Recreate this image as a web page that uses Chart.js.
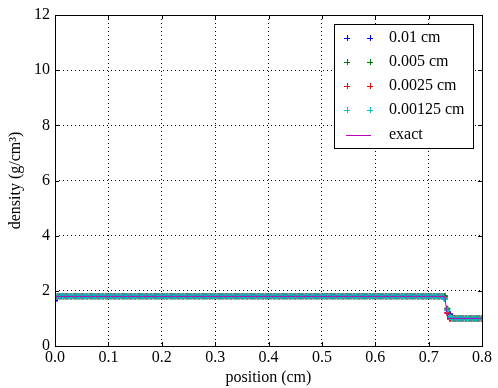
<!DOCTYPE html>
<html>
<head>
<meta charset="utf-8">
<script src="https://cdn.jsdelivr.net/npm/chart.js@4"></script>
<style>
  html, body { margin: 0; padding: 0; background: #fff; }
  #chart { display: block; }
</style>
</head>
<body>
<canvas id="chart" width="498" height="388"></canvas>
<script>
// cell centres (cm) for the 0.01 cm run
const pos01 = [
    0,0.01,0.02,0.03,0.04,0.05,0.06,0.07,0.08,0.09,
    0.1,0.11,0.12,0.13,0.14,0.15,0.16,0.17,0.18,0.19,
    0.2,0.21,0.22,0.23,0.24,0.25,0.26,0.27,0.28,0.29,
    0.3,0.31,0.32,0.33,0.34,0.35,0.36,0.37,0.38,0.39,
    0.4,0.41,0.42,0.43,0.44,0.45,0.46,0.47,0.48,0.49,
    0.5,0.51,0.52,0.53,0.54,0.55,0.56,0.57,0.58,0.59,
    0.6,0.61,0.62,0.63,0.64,0.65,0.66,0.67,0.68,0.69,
    0.7,0.71,0.72,0.73,0.74,0.75,0.76,0.77,0.78,0.79,
    0.8
];
// positions used for the finer runs
const pos005 = [
    0,0.005,0.01,0.015,0.02,0.025,0.03,0.035,0.04,0.045,0.05,0.055,0.06,0.065,0.07,0.075,0.08,0.085,0.09,0.095,
    0.1,0.105,0.11,0.115,0.12,0.125,0.13,0.135,0.14,0.145,0.15,0.155,0.16,0.165,0.17,0.175,0.18,0.185,0.19,0.195,
    0.2,0.205,0.21,0.215,0.22,0.225,0.23,0.235,0.24,0.245,0.25,0.255,0.26,0.265,0.27,0.275,0.28,0.285,0.29,0.295,
    0.3,0.305,0.31,0.315,0.32,0.325,0.33,0.335,0.34,0.345,0.35,0.355,0.36,0.365,0.37,0.375,0.38,0.385,0.39,0.395,
    0.4,0.405,0.41,0.415,0.42,0.425,0.43,0.435,0.44,0.445,0.45,0.455,0.46,0.465,0.47,0.475,0.48,0.485,0.49,0.495,
    0.5,0.505,0.51,0.515,0.52,0.525,0.53,0.535,0.54,0.545,0.55,0.555,0.56,0.565,0.57,0.575,0.58,0.585,0.59,0.595,
    0.6,0.605,0.61,0.615,0.62,0.625,0.63,0.635,0.64,0.645,0.65,0.655,0.66,0.665,0.67,0.675,0.68,0.685,0.69,0.695,
    0.7,0.705,0.71,0.715,0.72,0.725,0.73,0.735,0.74,0.745,0.75,0.755,0.76,0.765,0.77,0.775,0.78,0.785,0.79,0.795,
    0.8
];

const rho01 = [
    1.65,1.8,1.8,1.8,1.8,1.8,1.8,1.8,1.8,1.8,
    1.8,1.8,1.8,1.8,1.8,1.8,1.8,1.8,1.8,1.8,
    1.8,1.8,1.8,1.8,1.8,1.8,1.8,1.8,1.8,1.8,
    1.8,1.8,1.8,1.8,1.8,1.8,1.8,1.8,1.8,1.8,
    1.8,1.8,1.8,1.8,1.8,1.8,1.8,1.8,1.8,1.8,
    1.8,1.8,1.8,1.8,1.8,1.8,1.8,1.8,1.8,1.8,
    1.8,1.8,1.8,1.8,1.8,1.8,1.8,1.8,1.8,1.8,
    1.8,1.8,1.8,1.8,1.15,1.0,1.0,1.0,1.0,1.0,
    1.0
];
const rho005 = [
    1.75,1.8,1.8,1.8,1.8,1.8,1.8,1.8,1.8,1.8,1.8,1.8,1.8,1.8,1.8,1.8,1.8,1.8,1.8,1.8,
    1.8,1.8,1.8,1.8,1.8,1.8,1.8,1.8,1.8,1.8,1.8,1.8,1.8,1.8,1.8,1.8,1.8,1.8,1.8,1.8,
    1.8,1.8,1.8,1.8,1.8,1.8,1.8,1.8,1.8,1.8,1.8,1.8,1.8,1.8,1.8,1.8,1.8,1.8,1.8,1.8,
    1.8,1.8,1.8,1.8,1.8,1.8,1.8,1.8,1.8,1.8,1.8,1.8,1.8,1.8,1.8,1.8,1.8,1.8,1.8,1.8,
    1.8,1.8,1.8,1.8,1.8,1.8,1.8,1.8,1.8,1.8,1.8,1.8,1.8,1.8,1.8,1.8,1.8,1.8,1.8,1.8,
    1.8,1.8,1.8,1.8,1.8,1.8,1.8,1.8,1.8,1.8,1.8,1.8,1.8,1.8,1.8,1.8,1.8,1.8,1.8,1.8,
    1.8,1.8,1.8,1.8,1.8,1.8,1.8,1.8,1.8,1.8,1.8,1.8,1.8,1.8,1.8,1.8,1.8,1.8,1.8,1.8,
    1.8,1.8,1.8,1.8,1.8,1.8,1.8,1.35,1.0,1.0,1.0,1.0,1.0,1.0,1.0,1.0,1.0,1.0,1.0,1.0,
    1.0
];
const rho0025 = [
    1.78,1.8,1.8,1.8,1.8,1.8,1.8,1.8,1.8,1.8,1.8,1.8,1.8,1.8,1.8,1.8,1.8,1.8,1.8,1.8,
    1.8,1.8,1.8,1.8,1.8,1.8,1.8,1.8,1.8,1.8,1.8,1.8,1.8,1.8,1.8,1.8,1.8,1.8,1.8,1.8,
    1.8,1.8,1.8,1.8,1.8,1.8,1.8,1.8,1.8,1.8,1.8,1.8,1.8,1.8,1.8,1.8,1.8,1.8,1.8,1.8,
    1.8,1.8,1.8,1.8,1.8,1.8,1.8,1.8,1.8,1.8,1.8,1.8,1.8,1.8,1.8,1.8,1.8,1.8,1.8,1.8,
    1.8,1.8,1.8,1.8,1.8,1.8,1.8,1.8,1.8,1.8,1.8,1.8,1.8,1.8,1.8,1.8,1.8,1.8,1.8,1.8,
    1.8,1.8,1.8,1.8,1.8,1.8,1.8,1.8,1.8,1.8,1.8,1.8,1.8,1.8,1.8,1.8,1.8,1.8,1.8,1.8,
    1.8,1.8,1.8,1.8,1.8,1.8,1.8,1.8,1.8,1.8,1.8,1.8,1.8,1.8,1.8,1.8,1.8,1.8,1.8,1.8,
    1.8,1.8,1.8,1.8,1.8,1.8,1.72,1.2,1.0,1.0,1.0,1.0,1.0,1.0,1.0,1.0,1.0,1.0,1.0,1.0,
    1.0
];
const rho00125 = [
    1.8,1.8,1.8,1.8,1.8,1.8,1.8,1.8,1.8,1.8,1.8,1.8,1.8,1.8,1.8,1.8,1.8,1.8,1.8,1.8,
    1.8,1.8,1.8,1.8,1.8,1.8,1.8,1.8,1.8,1.8,1.8,1.8,1.8,1.8,1.8,1.8,1.8,1.8,1.8,1.8,
    1.8,1.8,1.8,1.8,1.8,1.8,1.8,1.8,1.8,1.8,1.8,1.8,1.8,1.8,1.8,1.8,1.8,1.8,1.8,1.8,
    1.8,1.8,1.8,1.8,1.8,1.8,1.8,1.8,1.8,1.8,1.8,1.8,1.8,1.8,1.8,1.8,1.8,1.8,1.8,1.8,
    1.8,1.8,1.8,1.8,1.8,1.8,1.8,1.8,1.8,1.8,1.8,1.8,1.8,1.8,1.8,1.8,1.8,1.8,1.8,1.8,
    1.8,1.8,1.8,1.8,1.8,1.8,1.8,1.8,1.8,1.8,1.8,1.8,1.8,1.8,1.8,1.8,1.8,1.8,1.8,1.8,
    1.8,1.8,1.8,1.8,1.8,1.8,1.8,1.8,1.8,1.8,1.8,1.8,1.8,1.8,1.8,1.8,1.8,1.8,1.8,1.8,
    1.8,1.8,1.8,1.8,1.8,1.8,1.7,1.3,1.05,1.0,1.0,1.0,1.0,1.0,1.0,1.0,1.0,1.0,1.0,1.0,
    1.0
];

const exactPos = [0, 0.73, 0.736, 0.8];
const exactRho = [1.8, 1.8, 1.0, 1.0];

const seriesLabels = ['0.01 cm', '0.005 cm', '0.0025 cm', '0.00125 cm', 'exact'];
const seriesColors = ['#0000ff', '#008000', '#ff0000', '#00bfbf', '#bf00bf'];

const FONT = "'Liberation Serif', 'DejaVu Serif', serif";

function pts(xs, ys) {
    return xs.map((x, i) => ({ x, y: ys[i] }));
}

function markerSet(i, xs, ys) {
    return {
        label: seriesLabels[i],
        data: pts(xs, ys),
        showLine: false,
        pointStyle: 'cross',
        pointRadius: 3,
        pointBorderWidth: 2,
        pointBorderColor: seriesColors[i],
        borderColor: seriesColors[i],
        order: 4 - i + 1,
        clip: 0,
    };
}

// frame, inward ticks, and the legend box
const framePlugin = {
    id: 'frame',
    afterDatasetsDraw(chart) {
        const { ctx, chartArea: a, scales } = chart;
        ctx.save();
        ctx.strokeStyle = '#000';
        ctx.lineWidth = 1;
        ctx.strokeRect(Math.round(a.left) + 0.5, Math.round(a.top) + 0.5,
            Math.round(a.right - a.left), Math.round(a.bottom - a.top));
        ctx.beginPath();
        scales.x.ticks.forEach(t => {
            const px = Math.round(scales.x.getPixelForValue(t.value)) + 0.5;
            ctx.moveTo(px, a.bottom); ctx.lineTo(px, a.bottom - 4);
            ctx.moveTo(px, a.top); ctx.lineTo(px, a.top + 4);
        });
        scales.y.ticks.forEach(t => {
            const py = Math.round(scales.y.getPixelForValue(t.value)) + 0.5;
            ctx.moveTo(a.left, py); ctx.lineTo(a.left + 4, py);
            ctx.moveTo(a.right, py); ctx.lineTo(a.right - 4, py);
        });
        ctx.stroke();

        // legend
        const bx = 334.5, by = 24.5, bw = 139, bh = 124;
        ctx.fillStyle = '#fff';
        ctx.fillRect(bx, by, bw, bh);
        ctx.strokeRect(bx, by, bw, bh);
        ctx.font = '16px ' + FONT;
        ctx.textBaseline = 'middle';
        ctx.textAlign = 'left';
        const rowY = [38, 62, 86, 110, 135];
        seriesLabels.forEach((lab, i) => {
            const y = rowY[i];
            ctx.strokeStyle = seriesColors[i];
            ctx.beginPath();
            if (i < 4) {
                [347, 370].forEach(cx => {
                    ctx.moveTo(cx - 3, y + 0.5); ctx.lineTo(cx + 3, y + 0.5);
                    ctx.moveTo(cx + 0.5, y - 3); ctx.lineTo(cx + 0.5, y + 3);
                });
            } else {
                ctx.moveTo(346, y + 0.5); ctx.lineTo(371, y + 0.5);
            }
            ctx.stroke();
            ctx.fillStyle = '#000';
            ctx.fillText(lab, 389, y);
        });
        ctx.restore();
    }
};

new Chart(document.getElementById('chart'), {
    type: 'line',
    data: {
        datasets: [
            {
                label: seriesLabels[4],
                data: pts(exactPos, exactRho),
                borderColor: seriesColors[4],
                borderWidth: 1,
                pointRadius: 0,
                tension: 0,
                order: 0,
                clip: 0,
            },
            markerSet(3, pos005, rho00125),
            markerSet(2, pos005, rho0025),
            markerSet(1, pos005, rho005),
            markerSet(0, pos01, rho01),
        ]
    },
    options: {
        responsive: false,
        animation: false,
        layout: { padding: { top: 15, right: 16, left: 0, bottom: 0 } },
        plugins: {
            legend: { display: false },
            tooltip: { enabled: false },
        },
        scales: {
            x: {
                type: 'linear',
                min: 0,
                max: 0.8,
                afterFit(s) { s.height = 42; },
                ticks: {
                    stepSize: 0.1,
                    padding: 2,
                    color: '#000',
                    font: { family: FONT, size: 16 },
                    maxRotation: 0,
                    callback: v => v.toFixed(1),
                },
                grid: { color: '#000', lineWidth: 1, drawTicks: false },
                border: { display: false, dash: [1, 3] },
                title: {
                    display: true,
                    text: 'position (cm)',
                    color: '#000',
                    font: { family: FONT, size: 16 },
                    padding: { top: 0, bottom: 1 },
                },
            },
            y: {
                type: 'linear',
                min: 0,
                max: 12,
                afterFit(s) { s.width = 55; },
                ticks: {
                    stepSize: 2,
                    padding: 5,
                    color: '#000',
                    font: { family: FONT, size: 16 },
                },
                grid: { color: '#000', lineWidth: 1, drawTicks: false },
                border: { display: false, dash: [1, 3] },
                title: {
                    display: true,
                    text: 'density (g/cm³)',
                    color: '#000',
                    font: { family: FONT, size: 16 },
                    padding: { top: 6, bottom: 0 },
                },
            },
        },
    },
    plugins: [framePlugin],
});
</script>
</body>
</html>
